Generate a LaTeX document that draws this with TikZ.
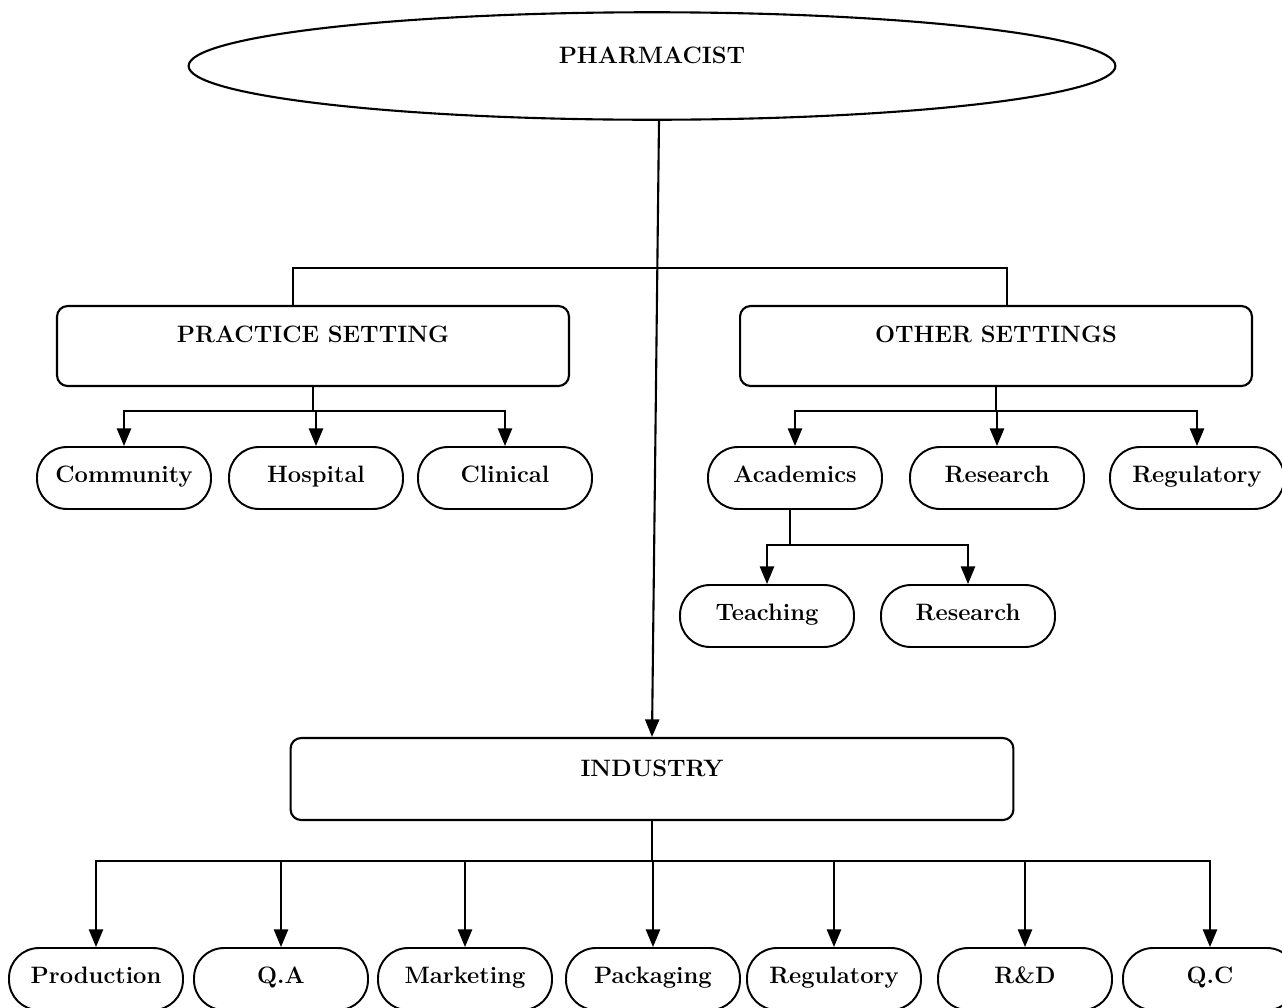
\documentclass[tikz,border=0pt]{standalone}
\usepackage{tikz}
\usetikzlibrary{arrows.meta,shapes.geometric}

\begin{document}
\begin{tikzpicture}[x=0.02cm, y=-0.02cm,
  every node/.style={font=\bfseries\fontsize{13.5}{16}\selectfont},
  bigbox/.style={draw, line width=1.2pt, rounded corners=6pt, inner sep=0pt,
    minimum width=10.24cm, text height=0.72cm, text depth=0.88cm},
  pill/.style={draw, line width=1.1pt, rounded corners=0.6cm, minimum width=3.48cm,
    minimum height=1.24cm, text height=0.7em, text depth=0.22em},
  link/.style={line width=1.2pt},
  arr/.style={link, -{Triangle[length=10pt, width=8pt]}}]
  \useasboundingbox (0,0) rectangle (1282,1008);
  % top
  \node[ellipse, draw, line width=1.2pt, inner sep=0pt, minimum width=18.54cm,
    minimum height=2.15cm, text depth=0.42cm] (pharm) at (652,66) {PHARMACIST};
  % second level
  \node[bigbox] (prac) at (313,346) {PRACTICE SETTING};
  \node[bigbox] (other) at (996,346) {OTHER SETTINGS};
  \node[bigbox, minimum width=14.46cm, text height=0.76cm, text depth=0.88cm] (indu) at (652,779) {INDUSTRY};
  % practice setting
  \node[pill] (comm) at (124,478) {Community};
  \node[pill] (hosp) at (316,478) {Hospital};
  \node[pill] (clin) at (505,478) {Clinical};
  % other settings
  \node[pill] (acad) at (795,478) {Academics};
  \node[pill] (resa) at (997,478) {Research};
  \node[pill] (regu) at (1197,478) {Regulatory};
  \node[pill] (teach) at (767,616) {Teaching};
  \node[pill] (resb) at (968,616) {Research};
  % industry
  \foreach \n/\x/\t in {prod/96/Production, qa/281/Q.A, mark/465/Marketing,
      pack/653/Packaging, ireg/834/Regulatory, rnd/1025/R\&D, qc/1210/Q.C}
    \node[pill] (\n) at (\x,979) {\t};

  % connectors
  \draw[link] ([xshift=-0.4cm]prac.north) -- ++(0,-37) -| ([xshift=0.22cm]other.north);
  \draw[arr] ([xshift=0.14cm]pharm.south) -- (indu.north);
  \draw[link] (prac.south) -- ++(0,24) coordinate (pj);
  \foreach \n in {comm,hosp,clin}
    \draw[arr] (pj) -| (\n.north);
  \draw[link] (other.south) -- ++(0,24) coordinate (oj);
  \foreach \n in {acad,resa,regu}
    \draw[arr] (oj) -| (\n.north);
  \draw[link] ([xshift=-0.1cm]acad.south) -- ++(0,35) coordinate (aj);
  \foreach \n in {teach,resb}
    \draw[arr] (aj) -| (\n.north);
  \draw[link] (indu.south) -- ++(0,40) coordinate (ij);
  \foreach \n in {prod,qa,mark,pack,ireg,rnd,qc}
    \draw[arr] (ij) -| (\n.north);
\end{tikzpicture}
\end{document}
